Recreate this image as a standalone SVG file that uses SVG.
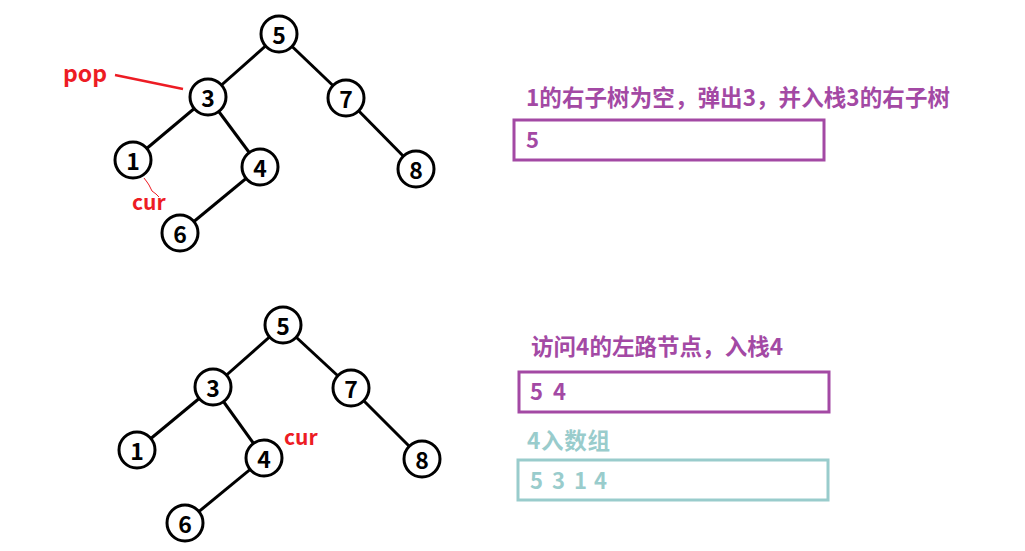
<svg xmlns="http://www.w3.org/2000/svg" width="1025" height="551" viewBox="0 0 1025 551">
<style>
.edge{stroke:#000;stroke-width:3;fill:none}
.node circle{fill:#fff;stroke:#000;stroke-width:3}
.node text{font-family:"Noto Sans CJK SC","Liberation Sans",sans-serif;font-weight:bold;font-size:23px;fill:#000;text-anchor:middle;dominant-baseline:central}
.red{font-family:"Noto Sans CJK SC","Liberation Sans",sans-serif;font-weight:bold;fill:#ed1c24}
.purple{font-family:"Noto Sans CJK SC","Liberation Sans",sans-serif;font-weight:bold;fill:#a349a4}
.teal{font-family:"Noto Sans CJK SC","Liberation Sans",sans-serif;font-weight:bold;fill:#99cccc}
</style>
<rect width="1025" height="551" fill="#fff"/>
<g id="connectors">
<line class="edge" x1="279" y1="34" x2="208" y2="97"/>
<line class="edge" x1="279" y1="34" x2="346" y2="98"/>
<line class="edge" x1="208" y1="97" x2="133" y2="160"/>
<line class="edge" x1="208" y1="97" x2="260" y2="167"/>
<line class="edge" x1="346" y1="98" x2="416" y2="169"/>
<line class="edge" x1="260" y1="167" x2="180" y2="233"/>
<line class="edge" x1="283" y1="325" x2="213" y2="387"/>
<line class="edge" x1="283" y1="325" x2="351" y2="388"/>
<line class="edge" x1="213" y1="387" x2="137" y2="450"/>
<line class="edge" x1="213" y1="387" x2="264" y2="458"/>
<line class="edge" x1="351" y1="388" x2="422" y2="459"/>
<line class="edge" x1="264" y1="458" x2="185" y2="523"/>
<line x1="115" y1="75" x2="183" y2="89" stroke="#ed1c24" stroke-width="2.5"/>
<polyline points="144,178 147,182 149,185 152,191 156,194 159,197" stroke="#ed1c24" stroke-width="1" fill="none"/>
</g>
<g id="top-5" class="node"><circle cx="279" cy="34" r="18"/><text x="279" y="34">5</text></g>
<g id="top-3" class="node"><circle cx="208" cy="97" r="18"/><text x="208" y="97">3</text></g>
<g id="top-7" class="node"><circle cx="346" cy="98" r="18"/><text x="346" y="98">7</text></g>
<g id="top-1" class="node"><circle cx="133" cy="160" r="18"/><text x="133" y="160">1</text></g>
<g id="top-4" class="node"><circle cx="260" cy="167" r="18"/><text x="260" y="167">4</text></g>
<g id="top-8" class="node"><circle cx="416" cy="169" r="18"/><text x="416" y="169">8</text></g>
<g id="top-6" class="node"><circle cx="180" cy="233" r="18"/><text x="180" y="233">6</text></g>
<g id="bot-5" class="node"><circle cx="283" cy="325" r="18"/><text x="283" y="325">5</text></g>
<g id="bot-3" class="node"><circle cx="213" cy="387" r="18"/><text x="213" y="387">3</text></g>
<g id="bot-7" class="node"><circle cx="351" cy="388" r="18"/><text x="351" y="388">7</text></g>
<g id="bot-1" class="node"><circle cx="137" cy="450" r="18"/><text x="137" y="450">1</text></g>
<g id="bot-4" class="node"><circle cx="264" cy="458" r="18"/><text x="264" y="458">4</text></g>
<g id="bot-8" class="node"><circle cx="422" cy="459" r="18"/><text x="422" y="459">8</text></g>
<g id="bot-6" class="node"><circle cx="185" cy="523" r="18"/><text x="185" y="523">6</text></g>
<g id="labels">
<text class="red" x="63" y="82" font-size="23">pop</text>
<text class="red" x="132" y="210" font-size="21">cur</text>
<text class="red" x="284" y="445" font-size="21">cur</text>
</g>
<g id="panel-top">
<text class="purple" x="526" y="106" font-size="22.5" textLength="424" lengthAdjust="spacing">1的右子树为空，弹出3，并入栈3的右子树</text>
<rect x="514" y="120" width="310" height="40" fill="none" stroke="#a349a4" stroke-width="3"/>
<text class="purple" x="526" y="148" font-size="22">5</text>
</g>
<g id="panel-bottom">
<text class="purple" x="531" y="355" font-size="22.5" textLength="252" lengthAdjust="spacing">访问4的左路节点，入栈4</text>
<rect x="519" y="372" width="310" height="40" fill="none" stroke="#a349a4" stroke-width="3"/>
<text class="purple" font-size="22" y="400"><tspan x="530">5</tspan><tspan x="553">4</tspan></text>
<text class="teal" x="527" y="449" font-size="22.5" textLength="83" lengthAdjust="spacing">4入数组</text>
<rect x="518" y="460" width="310" height="40" fill="none" stroke="#99cccc" stroke-width="3"/>
<text class="teal" font-size="22" y="489"><tspan x="530">5</tspan><tspan x="552">3</tspan><tspan x="574">1</tspan><tspan x="594">4</tspan></text>
</g>
</svg>
